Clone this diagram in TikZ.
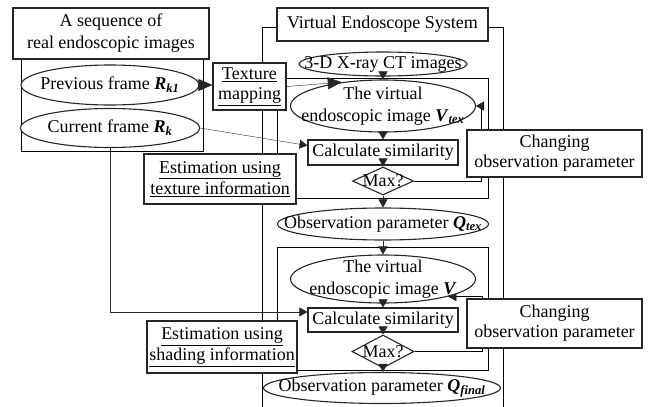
\documentclass[tikz,border=0pt]{standalone}
\usepackage{fontspec}
\setmainfont{Liberation Serif}
\usetikzlibrary{arrows.meta,shapes.geometric}
\pgfdeclarelayer{background}
\pgfsetlayers{background,main}

% bold italic symbol with bold italic index
\newcommand{\obsvar}[2]{\textbf{\textit{#1}}\textsubscript{\textbf{\textit{#2}}}}

\begin{document}
\begin{tikzpicture}[x=1pt, y=-1pt, line width=1.1pt, draw=black!85,
    every node/.style={font=\fontsize{18}{22}\selectfont, text=black},
    box/.style={draw, fill=white, align=center, inner sep=0pt},
    oval/.style={draw, fill=white, ellipse, align=center, inner sep=-100pt},
    decide/.style={draw, fill=white, diamond, inner sep=-100pt},
    arr/.style={-{Triangle[length=8pt,width=9pt]}},
    bigarr/.style={-{Triangle[length=14pt,width=12pt]}}]
    \useasboundingbox (0,0) rectangle (649,407);

    % real images
    \node[box, minimum width=196, minimum height=51] (seqhead) at (111,33.5) {A sequence of\\real endoscopic images};
    \node[oval, minimum width=178, minimum height=40] (prevfr) at (110,85) {Previous frame \obsvar{R}{k1}};
    \node[oval, minimum width=179, minimum height=39] (curfr) at (110,128) {Current frame \obsvar{R}{k}};

    % side labels
    \node[box, minimum width=73, minimum height=47] (texmap) at (249.5,86.5) {\underline{Texture}\\[-2pt]\underline{mapping}};
    \node[box, minimum width=152, minimum height=50] (estex) at (220,179) {\underline{Estimation using}\\[-1pt]\underline{texture information}};
    \node[box, minimum width=150, minimum height=52] (esshade) at (222,347) {\underline{Estimation using}\\[-1pt]\underline{shading information}};

    % virtual endoscope system
    \node[box, minimum width=211, minimum height=33] (veshead) at (382.5,24.5) {Virtual Endoscope System};
    \node[oval, minimum width=168, minimum height=24] (ct) at (383,64) {3-D X-ray CT images};

    % texture loop
    \node[oval, minimum width=185, minimum height=52] (vtex) at (383,106) {The virtual\\endoscopic image \obsvar{V}{tex}};
    \node[box, minimum width=150, minimum height=25] (calcA) at (383,152.5) {Calculate similarity};
    \node[decide, minimum width=61, minimum height=28] (maxA) at (383,181) {Max?};
    \node[box, minimum width=175, minimum height=47] (chgA) at (554.5,153.5) {Changing\\[-2pt]observation parameter};
    \node[oval, minimum width=211, minimum height=32] (qtex) at (383,224) {Observation parameter \obsvar{Q}{tex}};

    % shading loop
    \node[oval, minimum width=185, minimum height=48] (vv) at (383,279) {The virtual\\endoscopic image \textbf{\textit{V}}};
    \node[box, minimum width=150, minimum height=24] (calcB) at (383,320) {Calculate similarity};
    \node[decide, minimum width=62, minimum height=33] (maxB) at (383,351.5) {Max?};
    \node[box, minimum width=175, minimum height=49] (chgB) at (554.5,323.5) {Changing\\[-2pt]observation parameter};
    \node[oval, minimum width=237, minimum height=31] (qfin) at (382,388) {Observation parameter \obsvar{Q}{final}};

    \begin{pgfonlayer}{background}
        % frames
        \draw (21,59) rectangle (203,151);
        \draw (262,407) |- (503,27) -- (503,407);
        \draw (277,78) rectangle (488,198);
        \draw (277,247) rectangle (488,370);
        % loops behind the boxes
        \draw[arr] (maxA.east) -- ++(67,0) |- (vtex.east);
        \draw[arr] (maxB.east) -- ++(68,0) |- (vv.-15);
    \end{pgfonlayer}

    \draw[bigarr] (prevfr.east) -- (prevfr.east -| texmap.west);
    \draw[bigarr] (texmap.east) -- (vtex.150);
    \draw[arr] (curfr.east) -- ([yshift=7pt]calcA.west);
    \draw[arr] (curfr.south) |- ([yshift=8pt]calcB.west);

    % main chain
    \foreach \a/\b in {ct/vtex, vtex/calcA, calcA/maxA, maxA/qtex, qtex/vv, vv/calcB, calcB/maxB, maxB/qfin}
        \draw[arr] (\a.south) -- (\a.south |- \b.north);
\end{tikzpicture}
\end{document}
